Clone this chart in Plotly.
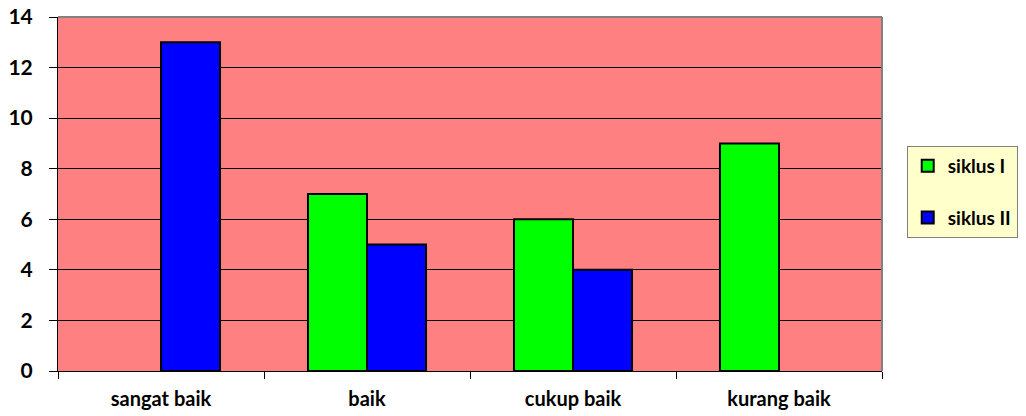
import plotly.graph_objects as go

categories = ["sangat baik", "baik", "cukup baik", "kurang baik"]
siklus_1 = [0, 7, 6, 9]
siklus_2 = [13, 5, 4, 0]

series = [
    ("siklus I", siklus_1, "#00FF00"),
    ("siklus II", siklus_2, "#0000FF"),
]

font_family = "Lato, 'Open Sans', sans-serif"


def outline_widths(values):
    # no outline on empty bars so they don't thicken the baseline
    return [2 if v else 0 for v in values]


fig = go.Figure()
for i, (name, values, color) in enumerate(series):
    fig.add_trace(go.Bar(
        x=categories, y=values, name=name, showlegend=False,
        offsetgroup=str(i),
        marker=dict(color=color,
                    line=dict(color="black", width=outline_widths(values))),
    ))
# legend entries with a uniform black outline on the swatch
for i, (name, values, color) in enumerate(series):
    fig.add_trace(go.Bar(
        x=[None], y=[None], name="<b>%s</b>" % name, legendgroup=name,
        offsetgroup=str(i),
        marker=dict(color=color, line=dict(color="black", width=2)),
        hoverinfo="skip",
    ))

fig.update_layout(
    width=1026, height=416,
    margin=dict(l=58, r=144, t=17, b=45, autoexpand=False),
    paper_bgcolor="white",
    plot_bgcolor="#FF8080",
    barmode="group",
    bargap=0.427,
    bargroupgap=0,
    font=dict(family=font_family, size=20, color="black"),
    legend=dict(
        x=1.03, y=0.636, xanchor="left", yanchor="top",
        bgcolor="#FFFFCC", bordercolor="#808080", borderwidth=1,
        font=dict(size=19, family=font_family),
        traceorder="grouped", tracegroupgap=24,
        itemwidth=30,
    ),
    xaxis=dict(
        automargin=False,
        showgrid=False, showline=True, linecolor="black", linewidth=1,
        ticks="outside", tickson="boundaries", ticklen=7, tickcolor="black",
        tickfont=dict(size=20, family=font_family),
        ticklabelstandoff=10,
        tickvals=categories,
        ticktext=["<b>%s</b>" % c for c in categories],
    ),
    yaxis=dict(
        automargin=False,
        range=[0, 14], dtick=2,
        showgrid=True, gridcolor="black", gridwidth=1,
        showline=True, linecolor="black", linewidth=1,
        ticks="outside", ticklen=8, tickcolor="black",
        ticklabelstandoff=12,
        tickvals=list(range(0, 15, 2)),
        ticktext=["<b>%d</b>" % v for v in range(0, 15, 2)],
        tickfont=dict(size=21, family=font_family),
        zeroline=False,
    ),
)

# gray frame along the top and right of the plot area
fig.add_shape(type="line", xref="x domain", yref="y domain",
              x0=0, x1=1, y0=1, y1=1, line=dict(color="#808080", width=2))
fig.add_shape(type="line", xref="x domain", yref="y domain",
              x0=1, x1=1, y0=0, y1=1, line=dict(color="#808080", width=2))

fig.write_html("out.html")
